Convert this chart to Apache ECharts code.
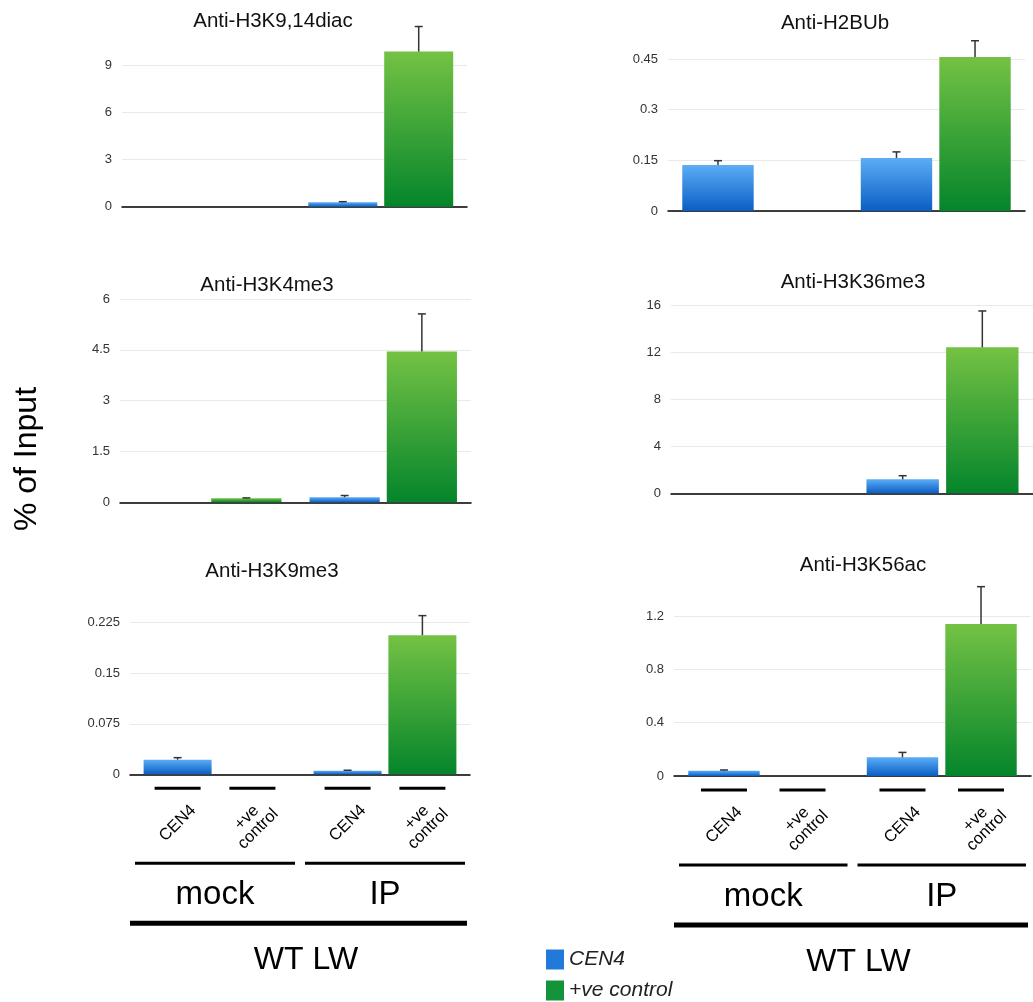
<!DOCTYPE html>
<html>
<head>
<meta charset="utf-8">
<script src="https://cdn.jsdelivr.net/npm/echarts@6/dist/echarts.min.js"></script>
<style>
  html, body { margin: 0; padding: 0; background: #fff; }
  #chart { width: 1033px; height: 1002px; }
</style>
</head>
<body>
<div id="chart"></div>
<script>
// categories / labels
var groups = ['mock', 'IP'];
var sampleNames = ['CEN4', '+ve control'];
var sampleTicks = ['CEN4', '+ve\ncontrol'];
var strainLabel = 'WT LW';
var titles = ['Anti-H3K9,14diac', 'Anti-H2BUb', 'Anti-H3K4me3', 'Anti-H3K36me3', 'Anti-H3K9me3', 'Anti-H3K56ac'];

// y axis ticks per panel
var yMax = [9, 0.45, 6, 16, 0.225, 1.2];
var yStep = [3, 0.15, 1.5, 4, 0.075, 0.4];

// values [mock, IP] per panel
var cen4 = [
  [0, 0.28],
  [0.136, 0.157],
  [0, 0.15],
  [0, 1.19],
  [0.0217, 0.0054],
  [0.04, 0.14]
];
var cen4Err = [
  [0, 0.04],
  [0.013, 0.018],
  [0, 0.05],
  [0, 0.31],
  [0.003, 0.0006],
  [0.005, 0.037]
];
var posCtrl = [
  [0, 9.9],
  [0, 0.456],
  [0.12, 4.45],
  [0, 12.45],
  [0, 0.2065],
  [0, 1.14]
];
var posCtrlErr = [
  [0, 1.6],
  [0, 0.048],
  [0.01, 1.11],
  [0, 3.1],
  [0, 0.029],
  [0, 0.28]
];

// layout (pixels)
var grids = [
  {left: 122, top: 65.7, width: 345, height: 141},
  {left: 668, top: 59, width: 357, height: 152},
  {left: 120, top: 299, width: 351, height: 203.3},
  {left: 671, top: 305.7, width: 362, height: 187.6},
  {left: 130, top: 622.7, width: 340, height: 151.6},
  {left: 674, top: 616, width: 357, height: 160}
];
var titlePos = [[273, 21], [835, 23], [267, 285], [853, 282], [272, 571], [863, 565]];

var FONT = '"Liberation Sans", Arial, Helvetica, sans-serif';
var BAR_W = 0.4, BAR_GAP = 0.1;

var blueFill = new echarts.graphic.LinearGradient(0, 0, 0, 1, [
  {offset: 0, color: '#5cadf6'}, {offset: 1, color: '#0a5ec3'}
]);
var greenFill = new echarts.graphic.LinearGradient(0, 0, 0, 1, [
  {offset: 0, color: '#74c244'}, {offset: 1, color: '#04852b'}
]);
var legendColors = ['#2379d9', '#13933a'];

// error bar drawn from the top of the bar upward
function errRenderer(side) {
  return function (params, api) {
    var e = api.value(2);
    if (!e) return;
    var cat = api.value(0), v = api.value(1);
    var band = api.size([1, 0])[0];
    var off = side * band * BAR_W * (1 + BAR_GAP) / 2;
    var base = api.coord([cat, v]);
    var top = api.coord([cat, v + e]);
    var x = base[0] + off;
    var st = {stroke: '#333', lineWidth: 1.5};
    return {
      type: 'group',
      children: [
        {type: 'line', shape: {x1: x, y1: base[1], x2: x, y2: top[1]}, style: st},
        {type: 'line', shape: {x1: x - 4, y1: top[1], x2: x + 4, y2: top[1]}, style: st}
      ]
    };
  };
}

function errData(vals, errs) {
  return vals.map(function (v, i) { return [i, v, errs[i]]; });
}

var option = {
  backgroundColor: '#fff',
  animation: false,
  textStyle: {fontFamily: FONT},
  title: titles.map(function (t, i) {
    return {
      text: t, left: titlePos[i][0], top: titlePos[i][1], padding: 0,
      textAlign: 'center', textVerticalAlign: 'middle',
      textStyle: {fontFamily: FONT, fontSize: 20.5, fontWeight: 'normal', color: '#111'}
    };
  }),
  // one legend per entry, stacked
  legend: sampleNames.map(function (n, i) {
    return {
      left: 546, top: 949 + i * 31, padding: 0,
      itemWidth: 18, itemHeight: 20, icon: 'rect', itemGap: 4,
      textStyle: {fontFamily: FONT, fontSize: 21, fontStyle: 'italic', color: '#222'},
      data: [{name: n, itemStyle: {color: legendColors[i]}}]
    };
  }),
  grid: grids,
  xAxis: grids.map(function (g, i) {
    return {
      type: 'category', gridIndex: i, data: groups,
      axisLine: {lineStyle: {color: '#000', width: 1.5}},
      axisTick: {show: false}, axisLabel: {show: false}
    };
  }),
  yAxis: grids.map(function (g, i) {
    return {
      type: 'value', gridIndex: i, min: 0, max: yMax[i], interval: yStep[i],
      axisLine: {show: false}, axisTick: {show: false},
      axisLabel: {fontFamily: FONT, fontSize: 13, color: '#333', margin: 10},
      splitLine: {lineStyle: {color: '#e9e9e9', width: 1}}
    };
  }),
  series: []
};

for (var i = 0; i < 6; i++) {
  option.series.push({
    name: sampleNames[0], type: 'bar', xAxisIndex: i, yAxisIndex: i,
    data: cen4[i], barWidth: BAR_W * 100 + '%', barGap: BAR_GAP * 100 + '%',
    clip: false, itemStyle: {color: blueFill}
  });
  option.series.push({
    name: sampleNames[1], type: 'bar', xAxisIndex: i, yAxisIndex: i,
    data: posCtrl[i], barWidth: BAR_W * 100 + '%', barGap: BAR_GAP * 100 + '%',
    clip: false, itemStyle: {color: greenFill}
  });
  option.series.push({
    name: 'err-a' + i, type: 'custom', xAxisIndex: i, yAxisIndex: i, z: 5, clip: false,
    renderItem: errRenderer(-1), data: errData(cen4[i], cen4Err[i])
  });
  option.series.push({
    name: 'err-b' + i, type: 'custom', xAxisIndex: i, yAxisIndex: i, z: 5, clip: false,
    renderItem: errRenderer(1), data: errData(posCtrl[i], posCtrlErr[i])
  });
}

var chart = echarts.init(document.getElementById('chart'));
chart.setOption(option);

// annotations under the two bottom panels (x-axis 4 and 5)
var graphics = [{
  type: 'text', x: 27, y: 459, rotation: Math.PI / 2,
  style: {text: '% of Input', fontFamily: FONT, fontSize: 32, fill: '#000', textAlign: 'center', textVerticalAlign: 'middle'}
}];

[4, 5].forEach(function (ax) {
  var g = grids[ax];
  var y0 = g.top + g.height;
  var band = g.width / groups.length;
  var half = band * BAR_W * (1 + BAR_GAP) / 2;
  groups.forEach(function (name, gi) {
    var cx = chart.convertToPixel({xAxisIndex: ax}, name);
    [-1, 1].forEach(function (side, si) {
      var bx = cx + side * half;
      graphics.push({type: 'line', shape: {x1: bx - 23, y1: y0 + 14, x2: bx + 23, y2: y0 + 14},
        style: {stroke: '#000', lineWidth: 3}});
      graphics.push({type: 'text', x: bx, y: y0 + 49, rotation: Math.PI / 4,
        style: {text: sampleTicks[si], fontFamily: FONT, fontSize: 16.5, fill: '#000',
          textAlign: 'center', textVerticalAlign: 'middle', lineHeight: 16}});
    });
    graphics.push({type: 'line', shape: {x1: cx - band / 2 + 5, y1: y0 + 89, x2: cx + band / 2 - 5, y2: y0 + 89},
      style: {stroke: '#000', lineWidth: 3}});
    graphics.push({type: 'text', x: cx, y: y0 + 121,
      style: {text: name, fontFamily: FONT, fontSize: 33, fill: '#000', textAlign: 'center', textVerticalAlign: 'middle'}});
  });
  graphics.push({type: 'line', shape: {x1: g.left, y1: y0 + 149, x2: g.left + g.width - 3, y2: y0 + 149},
    style: {stroke: '#000', lineWidth: 5}});
  graphics.push({type: 'text', x: g.left + g.width / 2 + 6, y: y0 + 186,
    style: {text: strainLabel, fontFamily: FONT, fontSize: 32, fill: '#000', textAlign: 'center', textVerticalAlign: 'middle'}});
});

chart.setOption({graphic: graphics});
</script>
</body>
</html>
